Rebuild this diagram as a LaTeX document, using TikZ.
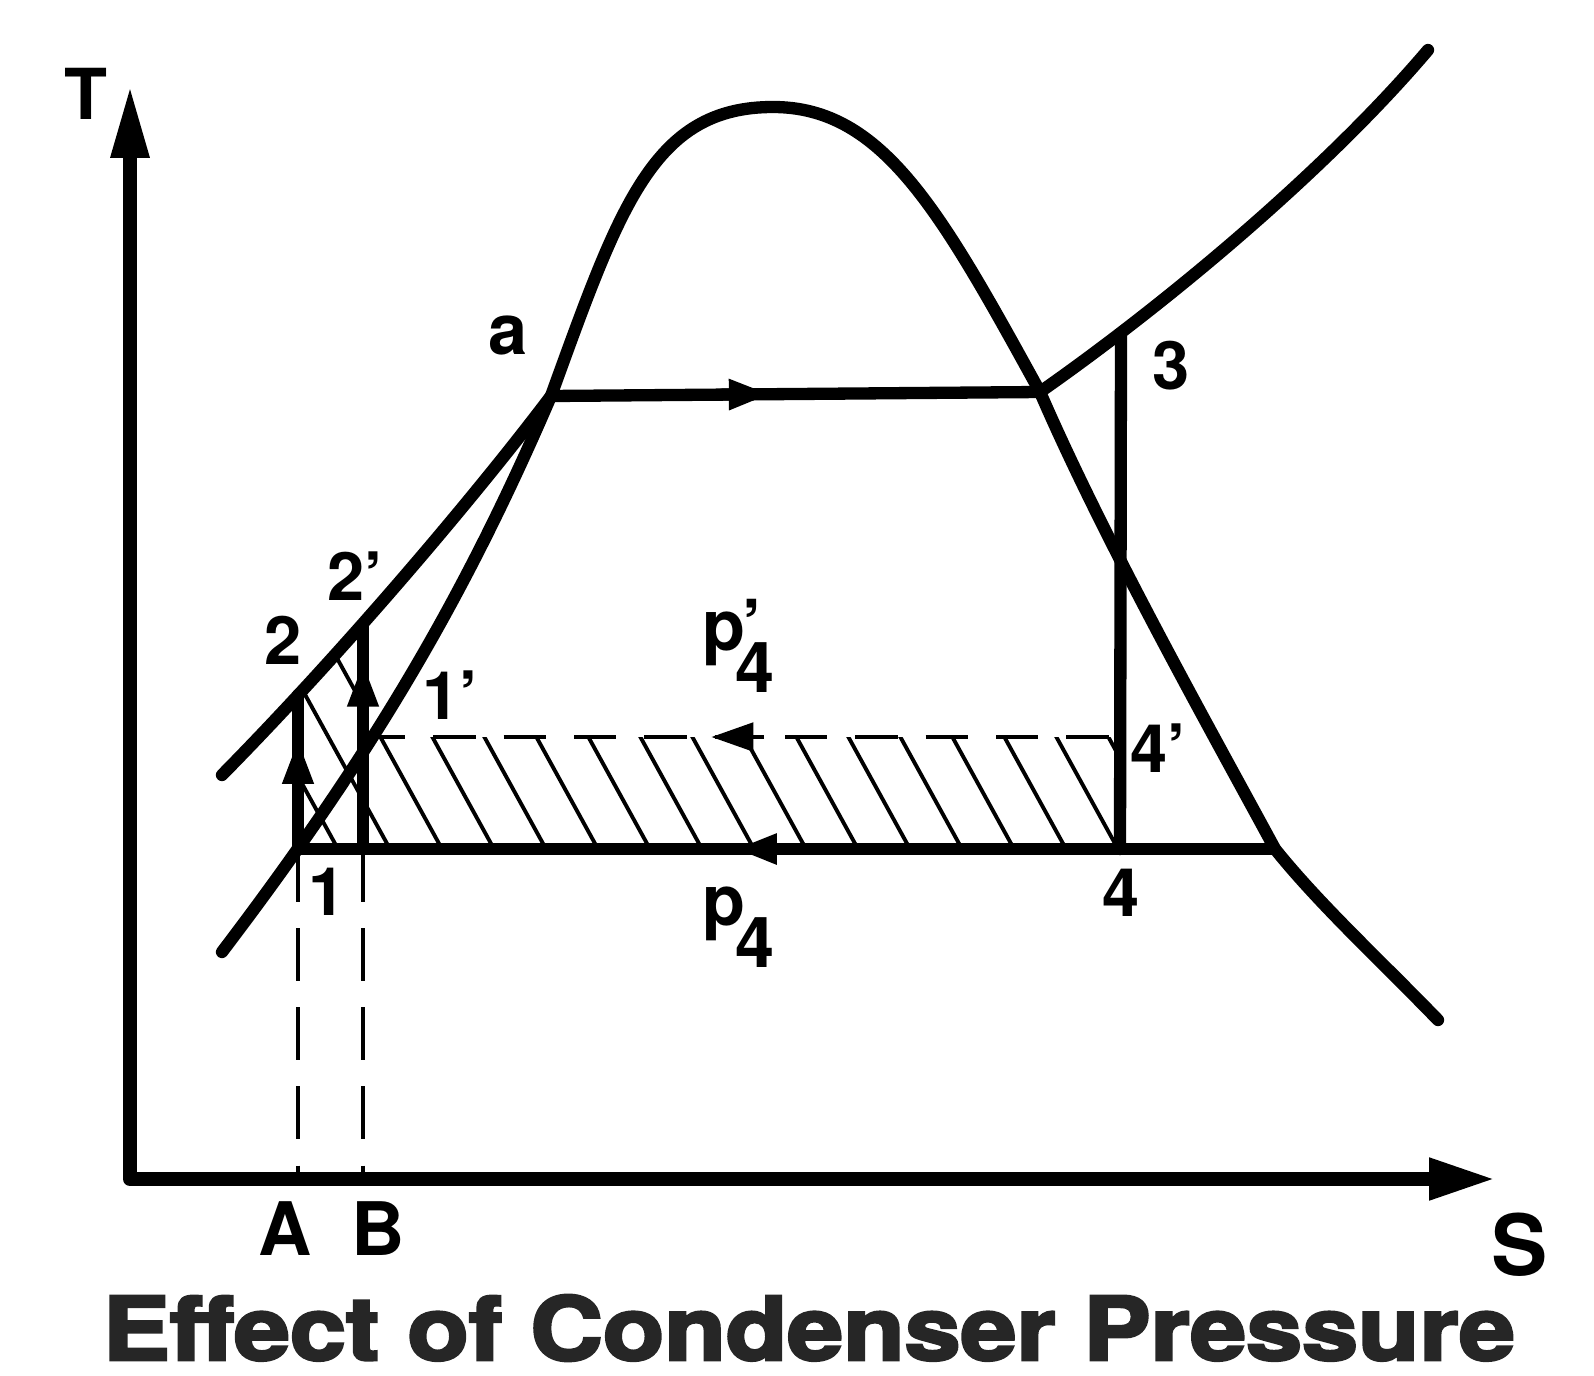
\documentclass[tikz,border=0pt]{standalone}
\usepackage{fontspec}
\setmainfont{TeX Gyre Heros}
\newfontfamily\titlefont{TeX Gyre Heros}[BoldFeatures={FakeBold=3}]
\usetikzlibrary{calc,arrows.meta}
\definecolor{titlegray}{HTML}{262626}
\tikzset{
  curve/.style={line width=3.5pt, line cap=round, line join=round},
  axisline/.style={line width=4pt, line join=round},
  projline/.style={line width=1.4pt, dash pattern=on 15pt off 7.5pt},
  lowline/.style={line width=1.4pt, dash pattern=on 12pt off 8pt},
  hatchline/.style={line width=1.1pt},
  lbl/.style={font=\bfseries\fontsize{19}{19}\selectfont, inner sep=0pt},
  midtip/.style={-{Triangle[length=12pt,width=8pt]}},
  uptip/.style={-{Triangle[length=13pt,width=8pt]}},
}
\begin{document}
\begin{tikzpicture}[x=0.01cm, y=-0.01cm]
			\useasboundingbox (0,0) rectangle (1594,1376);
			%%%%% POINTS %%%%%
			\coordinate (O) at (130,1179);
			\coordinate (Ttip) at (130,84);
			\coordinate (Stip) at (1496,1179);
			\coordinate (p1) at (298,849);
			\coordinate (p2) at (298,695);
			\coordinate (p1p) at (363,737);
			\coordinate (p2p) at (363,625);
			\coordinate (p1b) at (363,849);
			\coordinate (pa) at (551,396);
			\coordinate (pg) at (1040,392);
			\coordinate (pc) at (773,107);
			\coordinate (p3) at (1121,333);
			\coordinate (p4) at (1120,849);
			\coordinate (p4p) at (1120,737);
			\coordinate (pf) at (1275,849);
			\coordinate (xA) at (298,1179);
			\coordinate (xB) at (363,1179);
			
			%%%%% HATCHED AREA %%%%%
			\begin{scope}
				\clip (p1) -- (p2) -- (p2p) -- (p1p) -- (p4p) -- (p4) -- cycle;
				\foreach \hx in {-59,-7,...,1200}
					\draw[hatchline] (\hx,600) -- ++(137,249);
			\end{scope}
			
			%%%%% AXES %%%%%
			\draw[axisline, {Triangle[length=21pt,width=10pt]}-{Triangle[length=19pt,width=11pt]}] (Ttip) -- (O) -- (Stip);
			
			%%%%% CURVES %%%%%
			\draw[curve] (222,952) .. controls (374,752) and (465,596) .. (pa)
				.. controls (620,206) and (653,107) .. (pc)
				.. controls (883,107) and (941,212) .. (pg)
				.. controls (1105,542) and (1209,727) .. (pf)
				.. controls (1320,905) and (1380,960) .. (1438,1020);
			\draw[curve] (222,775) .. controls (350,645) and (480,490) .. (pa);
			\draw[curve] (pg) .. controls (1170,301) and (1328,168) .. (1428,50);
			
			%%%%% CYCLE %%%%%
			\draw[curve] (pa) -- (pg);
			\draw[curve, midtip] ($(pa)!0.35!(pg)$) -- ($(pa)!0.45!(pg)$);
			\draw[curve] (p3) -- (p4);
			\draw[curve] (p1) -- (pf);
			\draw[curve, midtip] ($(p1)!0.55!(pf)$) -- ($(p1)!0.447!(pf)$);
			\draw[curve] (p1) -- (p2);
			\draw[curve, uptip] ($(p1)!0.4!(p2)$) -- ($(p1)!0.72!(p2)$);
			\draw[curve] (p1b) -- (p2p);
			\draw[curve, uptip] ($(p1b)!0.6!(p2p)$) -- ($(p1b)!0.84!(p2p)$);
			\draw[lowline] (p1p) -- (p4p);
			\draw[line width=1.4pt, midtip] ($(p1p)!0.53!(p4p)$) -- ($(p1p)!0.46!(p4p)$);
			
			\draw[projline] (p1) -- (xA);
			\draw[projline] (p1b) -- (xB);
			
			%%%%% LABELS %%%%%
			\node[lbl, font=\bfseries\fontsize{20}{20}\selectfont] (lT) at (86,94) {T};
			\node[lbl, font=\bfseries\fontsize{24}{24}\selectfont] (lS) at (1520,1245) {S};
			\node[lbl, font=\bfseries\fontsize{21}{21}\selectfont] (lA) at (285,1229) {A};
			\node[lbl, font=\bfseries\fontsize{21}{21}\selectfont] (lB) at (378,1229) {B};
			\node[lbl, font=\bfseries\fontsize{20}{20}\selectfont] (la) at (508,336) {a};
			\node[lbl] (l3) at (1171,366) {3};
			\node[lbl] (l2p) at (355,576) {2'};
			\node[lbl] (l2) at (283,640) {2};
			\node[lbl] (l1p) at (450,695) {1'};
			\node[lbl] (l1) at (327,892) {1};
			\node[lbl] (l4) at (1121,893) {4};
			\node[lbl] (l4p) at (1158,748) {4'};
			\node[lbl, font=\bfseries\fontsize{20}{20}\selectfont, anchor=base west] (lpp) at (702,650) {p\kern-3pt\rlap{\kern2pt'}\raisebox{-12pt}{4}};
			\node[lbl, font=\bfseries\fontsize{20}{20}\selectfont, anchor=base west] (lp) at (702,925) {p\kern-3pt\raisebox{-12pt}{4}};
			
			\node[inner sep=0pt, text=titlegray, font=\titlefont\bfseries\fontsize{25}{25}\selectfont, anchor=base] (title) at (809,1360) {\scalebox{1.144}[1]{Effect of Condenser Pressure}};
\end{tikzpicture}
\end{document}
